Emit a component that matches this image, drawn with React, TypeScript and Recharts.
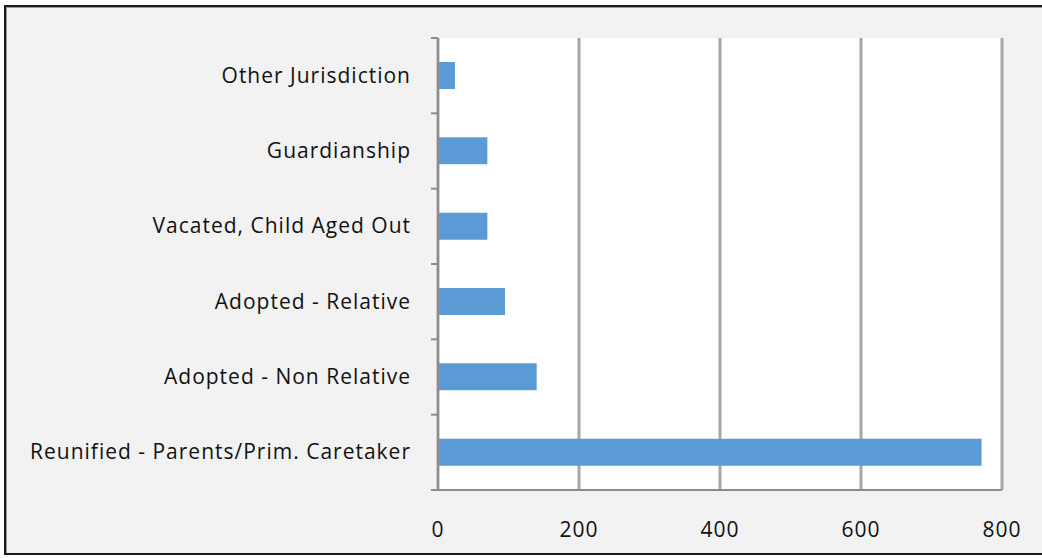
import { BarChart, Bar, XAxis, YAxis, CartesianGrid } from "recharts";

const categories = [
  "Other Jurisdiction",
  "Guardianship",
  "Vacated, Child Aged Out",
  "Adopted - Relative",
  "Adopted - Non Relative",
  "Reunified - Parents/Prim. Caretaker",
];
const counts = [24, 70, 70, 95, 140, 771];
const xTicks = [0, 200, 400, 600, 800];

const data = categories.map((name, i) => ({ name, count: counts[i] }));

const W = 1042;
const H = 558;
const M = { top: 38, right: 40, bottom: 0, left: 0 };
const X_H = 68;
const band = (H - M.top - X_H) / categories.length;
const FONT = "'Open Sans', sans-serif";
const AXIS = "#8c8c8c";

function CategoryTick(props: any) {
  const { x, y, payload, index } = props;
  const ax = x + 27;
  return (
    <g>
      <line x1={ax - 7} x2={ax} y1={y - band / 2} y2={y - band / 2} stroke={AXIS} strokeWidth={2} />
      {index === categories.length - 1 && (
        <line x1={ax - 7} x2={ax} y1={y + band / 2} y2={y + band / 2} stroke={AXIS} strokeWidth={2} />
      )}
      <text x={x} y={y} dy={7} textAnchor="end" fill="#111" fontSize={21} letterSpacing={1} fontFamily={FONT}>
        {payload.value}
      </text>
    </g>
  );
}

export default function App() {
  return (
    <div style={{ position: "absolute", left: 0, top: 0, width: W, height: H, overflow: "hidden", background: "#fff" }}>
      <div
        style={{
          position: "absolute",
          left: 4,
          top: 5,
          width: W,
          height: 546,
          background: "#f2f2f2",
          borderTop: "2px solid #1a1a1a",
          borderLeft: "2px solid #1a1a1a",
          borderBottom: "2px solid #1a1a1a",
          boxShadow: "inset 1px 1px 0 #999",
        }}
      />
      <div style={{ position: "absolute", left: 0, top: 0 }}>
        <BarChart width={W} height={H} data={data} layout="vertical" margin={M}>
          <CartesianGrid horizontal={false} vertical={true} stroke="#a6a6a6" strokeWidth={3} fill="#ffffff" />
          <XAxis
            type="number"
            domain={[0, 800]}
            ticks={xTicks}
            axisLine={{ stroke: AXIS, strokeWidth: 2 }}
            tickLine={false}
            tickMargin={26}
            height={X_H}
            tick={{ fill: "#111", fontSize: 21, letterSpacing: 1, fontFamily: FONT }}
          />
          <XAxis
            xAxisId="top"
            orientation="top"
            type="number"
            domain={[0, 800]}
            height={0}
            tick={false}
            tickLine={false}
            axisLine={{ stroke: AXIS, strokeWidth: 2 }}
          />
          <YAxis
            type="category"
            dataKey="name"
            width={438}
            axisLine={{ stroke: AXIS, strokeWidth: 2 }}
            tickLine={false}
            tickSize={0}
            tickMargin={27}
            tick={<CategoryTick />}
          />
          <Bar dataKey="count" fill="#5b9bd5" barSize={27} isAnimationActive={false} />
        </BarChart>
      </div>
    </div>
  );
}
